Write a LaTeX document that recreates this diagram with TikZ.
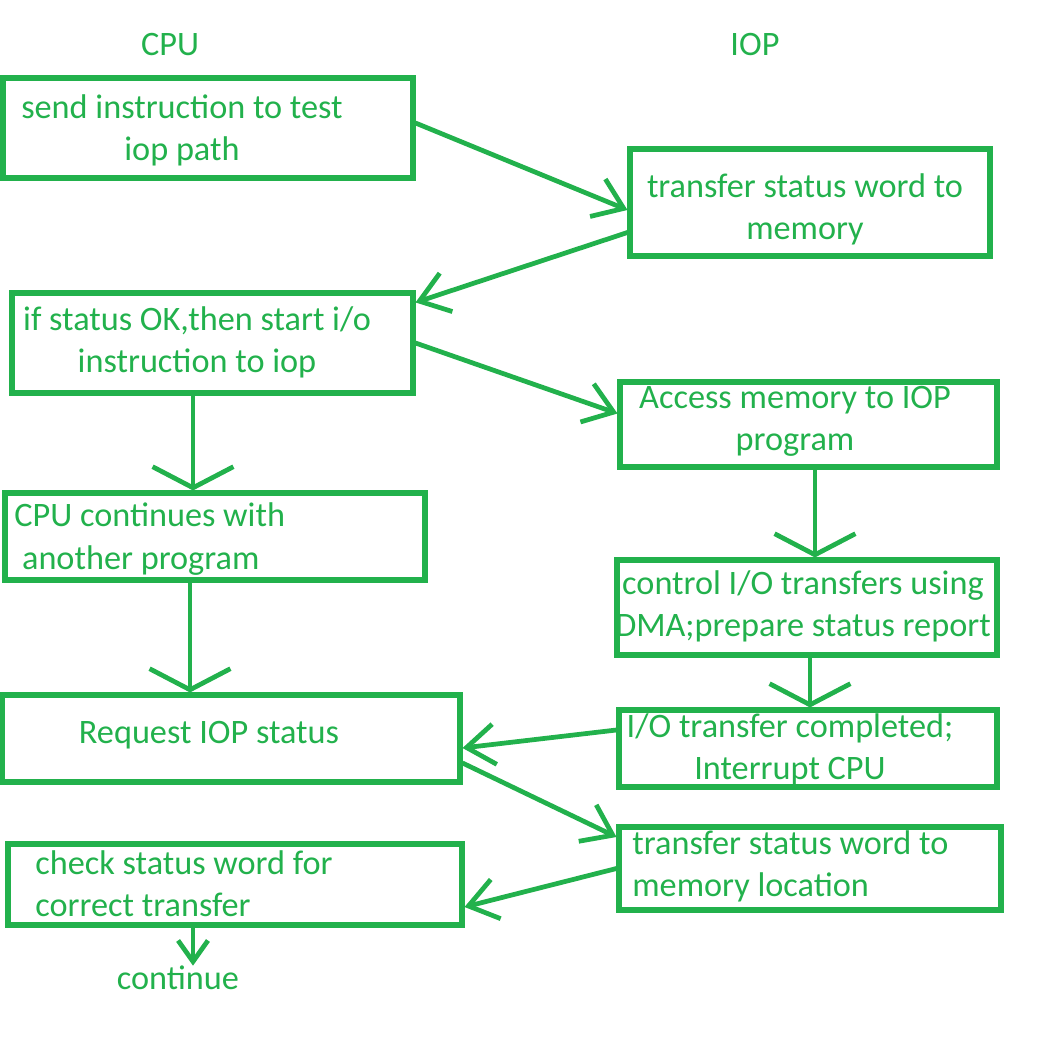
\documentclass[tikz,border=0pt]{standalone}
\usepackage{fontspec}
\setmainfont{Carlito}
\usetikzlibrary{arrows.meta}
\definecolor{paintgreen}{RGB}{34,177,76}
\begin{document}
\begin{tikzpicture}[x=0.02cm,y=-0.02cm,box/.style={shape=rectangle,draw=paintgreen,line width=2.9pt,inner sep=0pt},txt/.style={text=paintgreen,inner sep=0pt,align=center,font=\fontsize{19.5}{24}\selectfont},txtl/.style={txt,align=left,anchor=west},arr/.style={draw=paintgreen,line width=2.7pt,-{Straight Barb[length=16pt,width=23pt]}},arrv/.style={arr,-{Straight Barb[length=12pt,width=46pt]}},arrs/.style={arr,-{Straight Barb[length=12pt,width=17pt]}}]
\useasboundingbox (0,0) rectangle (1046,1037);

\node[txt] (cpu) at (170,45) {CPU};
\node[txt] (iop) at (755,45) {IOP};

\node[box,minimum width=8.2cm,minimum height=2cm] (send) at (208,128) {};
\node[txt] (sendt) at (182,130) {send instruction to test\\iop path};
\node[box,minimum width=7.2cm,minimum height=2.14cm] (word) at (810,202.5) {};
\node[txt] (wordt) at (805,209) {transfer status word to\\memory};
\node[box,minimum width=8.02cm,minimum height=2cm] (ok) at (212.5,343) {};
\node[txt] (okt) at (197,342) {if status OK,then start i/o\\instruction to iop};
\node[box,minimum width=7.54cm,minimum height=1.7cm] (acc) at (808.5,424.5) {};
\node[txt] (acct) at (795,421) {Access memory to IOP\\program};
\node[box,minimum width=8.4cm,minimum height=1.74cm] (cont) at (215,536.5) {};
\node[txtl] (contt) at (14,539) {CPU continues with\\\ another program};
\node[box,minimum width=7.6cm,minimum height=1.9cm] (dma) at (807,607.5) {};
\node[txt] (dmat) at (803,606) {control I/O transfers using\\DMA;prepare status report};
\node[box,minimum width=9.16cm,minimum height=1.74cm] (req) at (231,738.5) {};
\node[txt] (reqt) at (209,735) {Request IOP status};
\node[box,minimum width=7.56cm,minimum height=1.54cm] (done) at (808,748.5) {};
\node[txt] (donet) at (790,749) {I/O transfer completed;\\Interrupt CPU};
\node[box,minimum width=9.08cm,minimum height=1.62cm] (check) at (235,884.5) {};
\node[txtl] (checkt) at (35,884) {check status word for\\correct transfer};
\node[box,minimum width=7.64cm,minimum height=1.66cm] (loc) at (810,868.5) {};
\node[txtl] (loct) at (632,866) {transfer status word to\\memory location};
\node[txt] (next) at (178,978) {continue};

\draw[arr] ([yshift=0.1cm]send.east) -- ([yshift=-0.15cm]word.west);
\draw[arr] ([yshift=-0.6cm]word.west) -- ([yshift=-0.24cm]ok.north east);
\draw[arr] (ok.east) -- ([yshift=0.22cm]acc.west);
\draw[arrv] ([xshift=-0.39cm]ok.south) -- ([xshift=-0.39cm]ok.south |- cont.north);
\draw[arrv] ([xshift=-0.5cm]cont.south) -- ([xshift=-0.5cm]cont.south |- req.north);
\draw[arrv] ([xshift=0.13cm]acc.south) -- ([xshift=0.13cm]acc.south |- dma.north);
\draw[arrv] ([xshift=0.06cm]dma.south) -- ([xshift=0.06cm]dma.south |- done.north);
\draw[arr] ([yshift=0.37cm]done.west) -- ([yshift=-0.19cm]req.east);
\draw[arr] ([yshift=-0.49cm]req.east) -- ([yshift=0.63cm]loc.west);
\draw[arr] (loc.west) -- ([yshift=-0.45cm]check.east);
\draw[arrs] ([xshift=-0.84cm]check.south) -- ([xshift=-0.84cm]check.south |- next.north);
\end{tikzpicture}
\end{document}
